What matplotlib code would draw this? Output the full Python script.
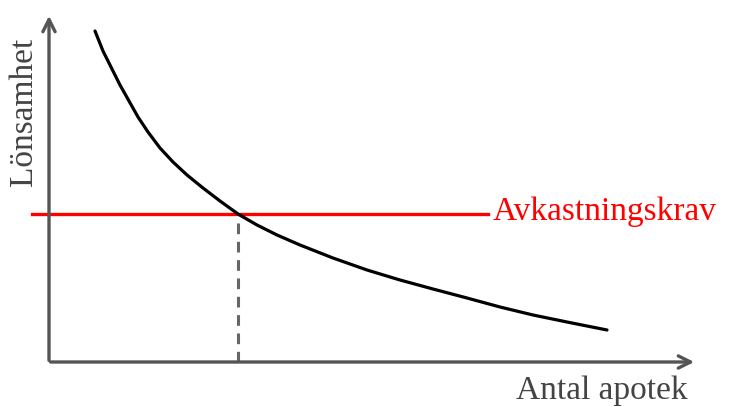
import matplotlib.pyplot as plt

# kurvan: antal apotek (x) mot lönsamhet (y) (godtyckliga enheter)
antal = [46, 54, 63, 71, 80, 89, 99, 111, 124, 138, 154, 171, 189,
         208, 228, 251, 284, 318, 351, 384, 418, 451, 484, 518, 558]
lonsamhet = [331, 311, 293, 277, 261, 245, 230, 214, 200, 187, 174, 161, 148,
             137, 127, 117, 104, 92, 82, 73, 64, 55, 47, 40, 32]

krav = 148            # avkastningskravet
krav_x = [-17, 439]
jamvikt_x = 189       # där kurvan skär kravet

plt.rcParams['font.family'] = ['Liberation Serif', 'DejaVu Serif']

fig = plt.figure(figsize=(7.3, 4.07), dpi=100)
ax = fig.add_axes([0, 0, 1, 1])
ax.set_xlim(-49, 681)
ax.set_ylim(-45, 362)
ax.axis('off')

gra = '#555555'
ax.annotate('', xy=(0, 349), xytext=(0, -1.2),
            arrowprops=dict(arrowstyle='->', color=gra, lw=2.4, mutation_scale=22))
ax.annotate('', xy=(648, 0), xytext=(-1.2, 0),
            arrowprops=dict(arrowstyle='->', color=gra, lw=2.4, mutation_scale=22))

ax.plot([jamvikt_x, jamvikt_x], [0, krav], color='#666666', lw=2.2, dashes=(3.5, 2.5))
ax.plot(krav_x, [krav, krav], color='red', lw=2.4)
ax.plot(antal, lonsamhet, color='black', lw=2.3, solid_capstyle='round',
        solid_joinstyle='round')

ax.text(444, krav + 2, 'Avkastningskrav', color='red', fontsize=24, va='center', ha='left')
ax.text(639, -37, 'Antal apotek', color='#444444', fontsize=24, va='baseline', ha='right')
ax.text(-25, 250, 'Lönsamhet', color='#444444', fontsize=24, rotation=90,
        va='center', ha='center')

fig.savefig('out.png', dpi=100)
